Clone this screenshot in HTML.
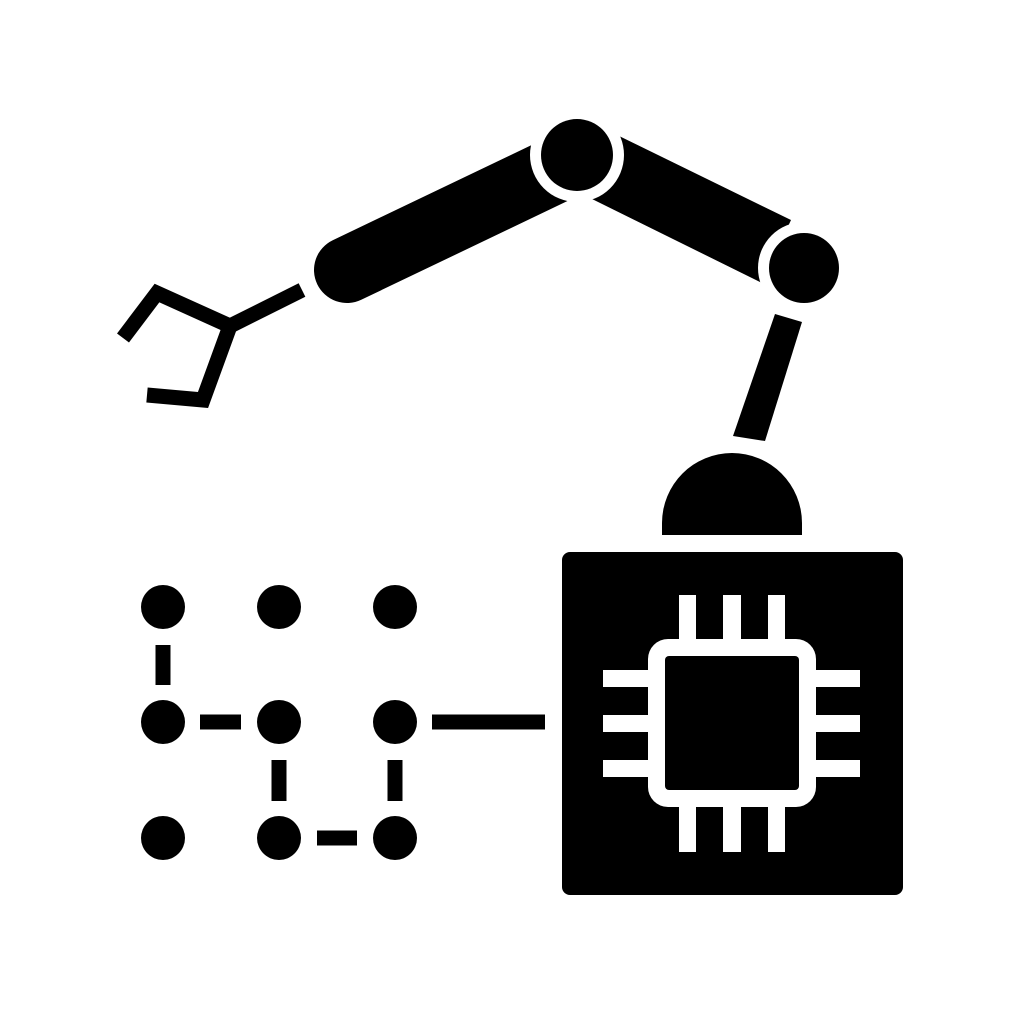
<!DOCTYPE html>
<html><head><style>html,body{margin:0;padding:0;background:#fff}svg{display:block}</style></head>
<body>
<svg width="1024" height="1024" viewBox="0 0 1024 1024" xmlns="http://www.w3.org/2000/svg">
<rect width="1024" height="1024" fill="#fff"/>
<line x1="347" y1="270" x2="560" y2="168" stroke="#000" stroke-width="66" stroke-linecap="round"/>
<polygon points="615,134 791,220 762,283 590,198" fill="#000"/>
<polygon points="775,314 802,322 765,441 733,436" fill="#000"/>
<circle cx="577" cy="155" r="47" fill="#fff"/>
<circle cx="577" cy="155" r="36" fill="#000"/>
<circle cx="804" cy="268" r="46" fill="#fff"/>
<circle cx="804" cy="268" r="35" fill="#000"/>
<line x1="302" y1="290" x2="230" y2="326" stroke="#000" stroke-width="15"/>
<polyline points="123,338 157,293 230,326 203,400 147,395" fill="none" stroke="#000" stroke-width="15" stroke-linejoin="miter"/>
<path d="M662,535 L662,523 A70,70 0 0 1 802,523 L802,535 Z" fill="#000"/>
<rect x="562" y="552" width="341" height="343" rx="8" fill="#000"/>
<rect x="648" y="639" width="168" height="168" rx="20" fill="#fff"/>
<rect x="665" y="656" width="134" height="134" rx="4" fill="#000"/>
<g fill="#fff">
<rect x="679" y="595" width="17" height="46"/><rect x="723" y="595" width="18" height="46"/><rect x="768" y="595" width="17" height="46"/>
<rect x="679" y="805" width="17" height="47"/><rect x="723" y="805" width="18" height="47"/><rect x="768" y="805" width="17" height="47"/>
<rect x="603" y="670" width="47" height="17"/><rect x="603" y="715" width="47" height="17"/><rect x="603" y="760" width="47" height="17"/>
<rect x="814" y="670" width="46" height="17"/><rect x="814" y="715" width="46" height="17"/><rect x="814" y="760" width="46" height="17"/>
</g>
<g fill="#000">
<circle cx="163" cy="607" r="22"/><circle cx="279" cy="607" r="22"/><circle cx="395" cy="607" r="22"/>
<circle cx="163" cy="722" r="22"/><circle cx="279" cy="722" r="22"/><circle cx="395" cy="722" r="22"/>
<circle cx="163" cy="838" r="22"/><circle cx="279" cy="838" r="22"/><circle cx="395" cy="838" r="22"/>
</g>
<g stroke="#000" stroke-width="15">
<line x1="163" y1="645" x2="163" y2="685"/>
<line x1="200" y1="722" x2="241" y2="722"/>
<line x1="279" y1="760" x2="279" y2="801"/>
<line x1="317" y1="838" x2="357" y2="838"/>
<line x1="395" y1="760" x2="395" y2="801"/>
<line x1="432" y1="722" x2="545" y2="722"/>
</g>
</svg>
</body></html>
